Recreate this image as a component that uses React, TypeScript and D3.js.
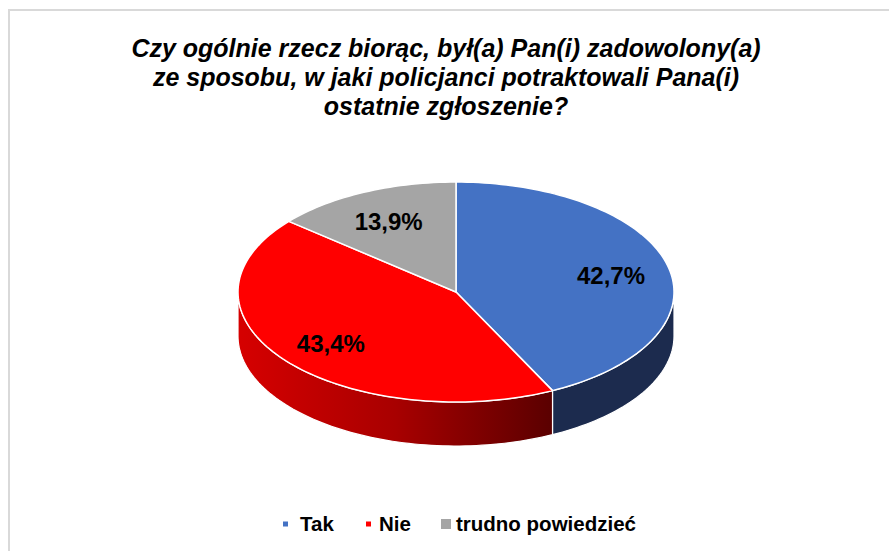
import React from "react";
import * as d3 from "d3";

const categories = ["Tak", "Nie", "trudno powiedzieć"];
const values = [42.7, 43.4, 13.9];
const labels = ["42,7%", "43,4%", "13,9%"];
const topColors = ["#4472C4", "#FF0000", "#A5A5A5"];
const titleLines = [
  "Czy ogólnie rzecz biorąc, był(a) Pan(i) zadowolony(a)",
  "ze sposobu, w jaki policjanci potraktowali Pana(i)",
  "ostatnie zgłoszenie?",
];

const W = 889;
const H = 551;
const cx = 456;
const cy = 292;
const rx = 218;
const ry = 110;
const depth = 44;

function pt(a: number, dy = 0): [number, number] {
  return [cx + rx * Math.sin(a), cy - ry * Math.cos(a) + dy];
}

function arcPoints(a0: number, a1: number, dy = 0): [number, number][] {
  const n = Math.max(2, Math.ceil(((a1 - a0) / (Math.PI * 2)) * 240));
  const pts: [number, number][] = [];
  for (let i = 0; i <= n; i++) pts.push(pt(a0 + ((a1 - a0) * i) / n, dy));
  return pts;
}

const line = d3.line<[number, number]>();

export default function App() {
  const pie = d3
    .pie<number>()
    .sort(null)
    .startAngle(0)
    .endAngle(Math.PI * 2)
    .value((d) => d);
  const arcs = pie(values);

  const sides: { d: string; fill: string }[] = [];
  arcs.forEach((a, i) => {
    const s = Math.max(a.startAngle, Math.PI / 2);
    const e = Math.min(a.endAngle, (3 * Math.PI) / 2);
    if (e > s) {
      const top = arcPoints(s, e);
      const bot = arcPoints(s, e, depth).reverse();
      const fill = i === 0 ? "#1C2B4E" : i === 1 ? "url(#redSide)" : "#6e6e6e";
      sides.push({ d: line([...top, ...bot])! + "Z", fill });
    }
  });

  const tops = arcs.map((a) => {
    const pts: [number, number][] = [[cx, cy], ...arcPoints(a.startAngle, a.endAngle)];
    return line(pts)! + "Z";
  });

  const labelPos = arcs.map((a) => {
    const m = (a.startAngle + a.endAngle) / 2;
    const f = 0.73;
    return [cx + rx * f * Math.sin(m), cy - ry * f * Math.cos(m) + 2];
  });

  const legendItems = [
    { sq: 5, x: 283, tx: 300 },
    { sq: 5, x: 366, tx: 379 },
    { sq: 10, x: 441, tx: 456 },
  ];

  return (
    <svg width={W} height={H} style={{ position: "absolute", left: 0, top: 0 }}>
      <defs>
        <linearGradient id="redSide" gradientUnits="userSpaceOnUse" x1={cx - rx} y1={0} x2={pt(arcs[0].endAngle)[0]} y2={0}>
          <stop offset="0" stopColor="#D60000" />
          <stop offset="0.5" stopColor="#A80000" />
          <stop offset="1" stopColor="#5A0000" />
        </linearGradient>
      </defs>
      <rect x={0} y={0} width={W} height={H} fill="#ffffff" />
      <path d={`M9,${H} V10 H${W}`} fill="none" stroke="#d9d9d9" strokeWidth={2} />
      {titleLines.map((t, i) => (
        <text
          key={i}
          x={446}
          y={56.5 + i * 29}
          textAnchor="middle"
          fontFamily="'Liberation Sans', Arial, sans-serif"
          fontWeight="bold"
          fontStyle="italic"
          fontSize={25}
          fill="#000"
        >
          {t}
        </text>
      ))}
      {sides.map((s, i) => (
        <path key={"s" + i} d={s.d} fill={s.fill} stroke="#ffffff" strokeWidth={1.2} strokeLinejoin="round" />
      ))}
      {tops.map((d, i) => (
        <path key={"t" + i} d={d} fill={topColors[i]} stroke="#ffffff" strokeWidth={1.5} strokeLinejoin="round" />
      ))}
      {labels.map((l, i) => (
        <text
          key={"l" + i}
          x={labelPos[i][0]}
          y={labelPos[i][1]}
          textAnchor="middle"
          dominantBaseline="central"
          fontFamily="'Liberation Sans', Arial, sans-serif"
          fontWeight="bold"
          fontSize={24}
          fill="#000"
        >
          {l}
        </text>
      ))}
      {categories.map((c, i) => (
        <g key={"g" + i}>
          <rect
            x={legendItems[i].x}
            y={524 - legendItems[i].sq / 2}
            width={legendItems[i].sq}
            height={legendItems[i].sq}
            fill={topColors[i]}
          />
          <text
            x={legendItems[i].tx}
            y={530.5}
            fontFamily="'Liberation Sans', Arial, sans-serif"
            fontWeight="bold"
            fontSize={20.5}
            fill="#000"
          >
            {c}
          </text>
        </g>
      ))}
    </svg>
  );
}
